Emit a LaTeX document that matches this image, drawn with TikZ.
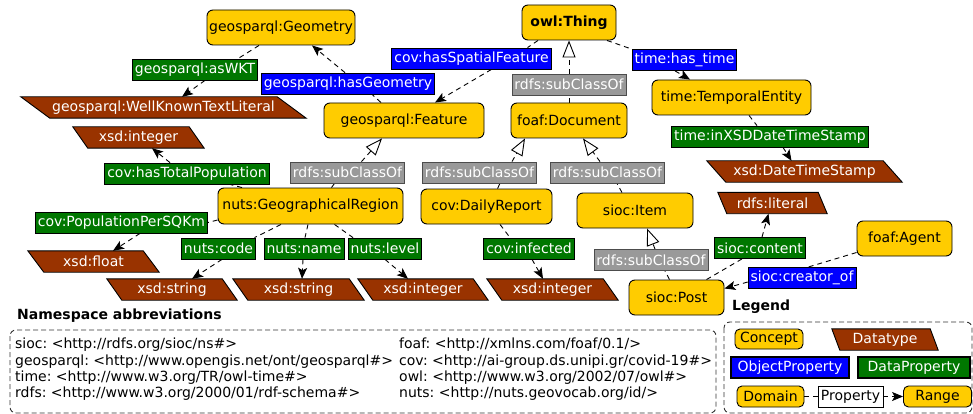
\documentclass[tikz,border=0pt]{standalone}
\usepackage{fontspec}
\setmainfont{DejaVu Sans}
\usetikzlibrary{arrows.meta}
\frenchspacing
\definecolor{cyel}{HTML}{FFCC00}
\definecolor{cbrown}{HTML}{993300}
\definecolor{cblue}{HTML}{0000FF}
\definecolor{cgreen}{HTML}{007700}
\definecolor{cgray}{HTML}{999999}
\pgfdeclarelayer{bg}
\pgfdeclarelayer{edges}
\pgfsetlayers{bg,edges,main}
\tikzset{
  concept/.style={draw=black, fill=cyel, rounded corners=6pt, minimum height=35pt, line width=0.9pt},
  dtnode/.style={text=white, minimum height=21pt},
  dtshape/.style={fill=cbrown, draw=black, line width=0.9pt},
  prop/.style={text=white, draw=black, line width=0.8pt, minimum height=21pt, inner xsep=2.5pt},
  objprop/.style={prop, fill=cblue},
  dataprop/.style={prop, fill=cgreen},
  subc/.style={prop, fill=cgray, draw=black!70},
  conn/.style={draw=black, line width=0.9pt, dash pattern=on 5pt off 4pt},
  arr/.style={-{Stealth[length=11pt,width=9pt,inset=2.5pt]}},
  tri/.style={-{Triangle[length=17pt,width=13pt,fill=white]}},
  framebox/.style={draw=black!80, line width=0.9pt, dash pattern=on 5pt off 3pt, rounded corners=6pt},
  titletxt/.style={font=\fontsize{14}{16.5}\selectfont\bfseries, anchor=west},
  plainbox/.style={draw=black, fill=white, line width=0.8pt, minimum height=21pt}
}
\newcommand\DTnode[6]{%
  \node[dtnode, minimum width=#4pt] (#1) at (#2,#3) {#6};
  \begin{pgfonlayer}{bg}
    \filldraw[dtshape] (#1.north west) -- ([xshift=-#5pt]#1.north east) -- (#1.south east) -- ([xshift=#5pt]#1.south west) -- cycle;
  \end{pgfonlayer}
}
\begin{document}
\begin{tikzpicture}[x=1pt,y=-1pt, every node/.style={font=\fontsize{14}{16.4}\selectfont\frenchspacing, inner sep=0pt}]
\useasboundingbox (0,0) rectangle (973,414);

% concepts
\node[concept, minimum width=148pt] (geom) at (281,27.5) {geosparql:Geometry};
\node[concept, minimum width=94pt, font=\fontsize{14}{16.5}\selectfont\bfseries] (thing) at (569,22.5) {owl:Thing};
\node[concept, minimum width=160pt] (feature) at (404,120.5) {geosparql:Feature};
\node[concept, minimum width=116pt] (document) at (569,120.5) {foaf:Document};
\node[concept, minimum width=159pt] (temporal) at (731.5,97.5) {time:TemporalEntity};
\node[concept, minimum width=185pt, minimum height=36pt] (region) at (310.5,206) {nuts:GeographicalRegion};
\node[concept, minimum width=131pt] (daily) at (486.5,206.5) {cov:DailyReport};
\node[concept, minimum width=116pt] (item) at (635,210.5) {sioc:Item};
\node[concept, minimum width=95pt] (post) at (676.5,297.5) {sioc:Post};
\node[concept, minimum width=95pt] (agent) at (904.5,238.5) {foaf:Agent};

% datatypes
\DTnode{wkt}{163.5}{107.5}{285}{29}{geosparql:WellKnownTextLiteral}
\DTnode{intA}{138.5}{137.5}{131}{15}{xsd:integer}
\DTnode{float}{93.5}{261.5}{131}{16}{xsd:float}
\DTnode{strA}{172}{289.5}{130}{15}{xsd:string}
\DTnode{strB}{298.5}{289.5}{131}{15}{xsd:string}
\DTnode{intB}{423}{289.5}{130}{15}{xsd:integer}
\DTnode{intC}{552.5}{289.5}{131}{15}{xsd:integer}
\DTnode{dts}{804.5}{171.5}{195}{19}{xsd:DateTimeStamp}
\DTnode{lit}{772.5}{203}{109}{9}{rdfs:literal}

% property labels
\node[dataprop] (asWKT) at (195,69.5) {geosparql:asWKT};
\node[objprop] (hasGeom) at (348,83.5) {geosparql:hasGeometry};
\node[objprop] (hasSF) at (471.5,58.5) {cov:hasSpatialFeature};
\node[subc] (sub0) at (569,84.5) {rdfs:subClassOf};
\node[objprop] (hastime) at (684.5,60) {time:has\_time};
\node[dataprop] (inXSD) at (770,136.5) {time:inXSDDateTimeStamp};
\node[dataprop] (totpop) at (187,173.5) {cov:hasTotalPopulation};
\node[subc] (sub1) at (347.5,172.5) {rdfs:subClassOf};
\node[dataprop] (ppsqkm) at (121.5,222.5) {cov:PopulationPerSQKm};
\node[dataprop] (code) at (218.5,248.5) {nuts:code};
\node[dataprop] (nname) at (304,248.5) {nuts:name};
\node[dataprop] (level) at (385,248.5) {nuts:level};
\node[subc] (sub2) at (479.5,172.5) {rdfs:subClassOf};
\node[subc] (sub3) at (607.5,172.5) {rdfs:subClassOf};
\node[dataprop] (infected) at (529,248.5) {cov:infected};
\node[subc] (sub4) at (651,260) {rdfs:subClassOf};
\node[dataprop] (content) at (760,248) {sioc:content};
\node[objprop] (creator) at (802,278) {sioc:creator\_of};

% connectors
\begin{pgfonlayer}{edges}
\draw[conn] ([xshift=-22pt]geom.south) -- ([xshift=43pt]asWKT.north);
\draw[conn,arr] ([xshift=10pt]asWKT.south) -- ([xshift=18.5pt]wkt.north);

\draw[conn] ([xshift=-23pt]feature.north) -- ([xshift=24pt]hasGeom.south);
\draw[conn,arr] ([xshift=-3pt]hasGeom.north) -- ([xshift=31pt]geom.south);

\draw[conn] ([xshift=-31pt]thing.south) -- ([xshift=56pt]hasSF.north);
\draw[conn,arr] ([xshift=20pt]hasSF.south) -- ([xshift=31pt]feature.north);

\draw[conn] (document) -- (sub0);
\draw[conn,tri] (sub0) -- (thing);

\draw[conn] ([xshift=38pt]thing.south) -- (hastime.north west);
\draw[conn,arr] ([xshift=-9.5pt]hastime.south) -- ([xshift=-41.5pt]temporal.north);

\draw[conn] ([xshift=17.5pt]temporal.south) -- ([xshift=-13pt]inXSD.north);
\draw[conn,arr] ([xshift=13pt]inXSD.south) -- ([xshift=-13pt]dts.north);

\draw[conn] ([xshift=21pt]region.north) -- ([xshift=-13pt]sub1.south);
\draw[conn,tri] ([xshift=14pt]sub1.north) -- ([xshift=-22pt]feature.south);

\draw[conn] ([xshift=-68.5pt]region.north) -- ([xshift=43pt]totpop.south);
\draw[conn,arr] ([xshift=-17pt]totpop.north) -- ([xshift=13.5pt]intA.south);

\draw[conn] ([yshift=-14pt]region.west) -- (ppsqkm.east);
\draw[conn,arr] ([xshift=18.5pt]ppsqkm.south) -- ([xshift=19.5pt]float.north);

\draw[conn] ([xshift=-29.5pt]region.south) -- ([xshift=36pt]code.north);
\draw[conn,arr] ([xshift=3.5pt]code.south) -- ([xshift=20pt]strA.north);

\draw[conn] ([xshift=-2.5pt]region.south) -- ([xshift=1pt]nname.north);
\draw[conn,arr] ([xshift=-1pt]nname.south) -- ([xshift=3.5pt]strB.north);

\draw[conn] ([xshift=24pt]region.south) -- ([xshift=-32pt]level.north);
\draw[conn,arr] (level.south) -- ([xshift=-15pt]intB.north);

\draw[conn] ([xshift=11pt]daily.north) -- ([xshift=20.5pt]sub2.south);
\draw[conn,tri] ([xshift=32.5pt]sub2.north) -- ([xshift=-44pt]document.south);

\draw[conn] ([xshift=-13pt]item.north) -- ([xshift=9.5pt]sub3.south);
\draw[conn,tri] ([xshift=-7.5pt]sub3.north) -- ([xshift=14pt]document.south);

\draw[conn] ([xshift=13.5pt]daily.south) -- ([xshift=-19pt]infected.north);
\draw[conn,arr] ([xshift=3pt]infected.south) -- ([xshift=-9.5pt]intC.north);

\draw[conn] ([xshift=-7pt]post.north) -- ([xshift=14pt]sub4.south);
\draw[conn,tri] ([xshift=4pt]sub4.north) -- ([xshift=12pt]item.south);

\draw[conn] ([xshift=30pt]post.north) -- ([xshift=-18pt]content.south);
\draw[conn,arr] ([xshift=2pt]content.north) -- ([xshift=-4pt]lit.south);

\draw[conn] ([yshift=-14pt]agent.west) -- ([xshift=6pt]creator.north);
\draw[conn,arr] ([yshift=-4pt]creator.west) -- ([yshift=9pt]post.east);
\end{pgfonlayer}

% namespace abbreviations
\node[titletxt] (nstitle) at (17,316) {Namespace abbreviations};
\draw[framebox] (10,330) rectangle (716,413);
\node[anchor=west, align=left] (nsleft) at (15,369.5) {sioc: <http://rdfs.org/sioc/ns\#>\\geosparql: <http://www.opengis.net/ont/geosparql\#>\\time: <http://www.w3.org/TR/owl-time\#>\\rdfs: <http://www.w3.org/2000/01/rdf-schema\#>};
\node[anchor=west, align=left] (nsright) at (399,369.5) {foaf: <http://xmlns.com/foaf/0.1/>\\cov: <http://ai-group.ds.unipi.gr/covid-19\#>\\owl: <http://www.w3.org/2002/07/owl\#>\\nuts: <http://nuts.geovocab.org/id/>};

% legend
\node[titletxt] (legtitle) at (732,307) {Legend};
\draw[framebox] (724,322) rectangle (972,413);
\node[concept, minimum width=68pt, minimum height=20pt, rounded corners=5pt] (lconcept) at (769,339) {Concept};
\DTnode{ldt}{885}{339.5}{106}{8}{Datatype}
\node[objprop, minimum width=118pt, line width=1.8pt] (lobj) at (790,367.5) {ObjectProperty};
\node[dataprop, minimum width=112pt, line width=1.8pt] (ldata) at (914,367.5) {DataProperty};
\node[concept, minimum width=67pt, minimum height=21pt, rounded corners=5pt] (ldomain) at (770.5,396.5) {Domain};
\node[plainbox, minimum width=65pt] (lprop) at (850.5,396.5) {Property};
\node[concept, minimum width=68pt, minimum height=21pt, rounded corners=5pt] (lrange) at (937.5,396.5) {Range};
\draw[conn] (ldomain) -- (lprop);
\draw[conn,arr] (lprop) -- (lrange);
\end{tikzpicture}
\end{document}
